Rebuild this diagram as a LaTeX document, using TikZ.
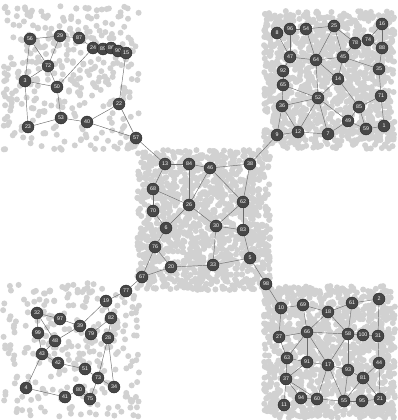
\documentclass[tikz,border=0pt]{standalone}
\usepackage{fontspec}
\setsansfont{Liberation Sans}
\tikzset{
    vertex/.style = {circle, fill=black!72, draw=black!85, line width=0.4pt, inner sep=0pt, minimum size=12pt, text=white, font=\sffamily\fontsize{5.3}{6}\selectfont},
    link/.style = {draw=black!58, line width=0.45pt},
    speck/.style = {fill=black!18}
}
\begin{document}
\begin{tikzpicture}[x=1pt, y=-1pt]
\useasboundingbox (0,0) rectangle (397,420);
\pgfmathsetseed{11}

% gray specks behind the five groups
\foreach \i in {1,...,340} {\fill[speck] ({3+137*rnd},{6+144*rnd}) circle (3pt);}
\foreach \i in {1,...,1300} {\fill[speck] ({264+131*rnd},{11+138*rnd}) circle (3pt);}
\foreach \i in {1,...,1300} {\fill[speck] ({137+133*rnd},{150+140*rnd}) circle (3pt);}
\foreach \i in {1,...,280} {\fill[speck] ({3+137*rnd},{283+135*rnd}) circle (3pt);}
\foreach \i in {1,...,1300} {\fill[speck] ({264+131*rnd},{286+132*rnd}) circle (3pt);}

% top left
\node[vertex] (n56) at (30,39) {56};
\node[vertex] (n29) at (60,36) {29};
\node[vertex] (n87) at (79,38) {87};
\node[vertex] (n24) at (93,48) {24};
\node[vertex] (n89) at (103,49) {89};
\node[vertex] (n86) at (111,48) {86};
\node[vertex] (n90) at (118,51) {90};
\node[vertex] (n15) at (126,53) {15};
\node[vertex] (n72) at (48,66) {72};
\node[vertex] (n3) at (25,81) {3};
\node[vertex] (n50) at (57,87) {50};
\node[vertex] (n22) at (119,104) {22};
\node[vertex] (n53) at (61,118) {53};
\node[vertex] (n40) at (87,122) {40};
\node[vertex] (n23) at (28,127) {23};
\node[vertex] (n57) at (136,138) {57};

% top right
\node[vertex] (n8) at (277,33) {8};
\node[vertex] (n96) at (290,29) {96};
\node[vertex] (n54) at (306,29) {54};
\node[vertex] (n25) at (334,26) {25};
\node[vertex] (n16) at (382,24) {16};
\node[vertex] (n78) at (355,43) {78};
\node[vertex] (n74) at (368,40) {74};
\node[vertex] (n88) at (382,48) {88};
\node[vertex] (n47) at (290,57) {47};
\node[vertex] (n64) at (316,60) {64};
\node[vertex] (n45) at (343,57) {45};
\node[vertex] (n35) at (379,69) {35};
\node[vertex] (n92) at (283,71) {92};
\node[vertex] (n14) at (338,79) {14};
\node[vertex] (n65) at (283,85) {65};
\node[vertex] (n71) at (381,96) {71};
\node[vertex] (n52) at (318,98) {52};
\node[vertex] (n36) at (282,106) {36};
\node[vertex] (n85) at (359,107) {85};
\node[vertex] (n49) at (348,121) {49};
\node[vertex] (n59) at (366,129) {59};
\node[vertex] (n1) at (384,126) {1};
\node[vertex] (n9) at (277,135) {9};
\node[vertex] (n12) at (298,132) {12};
\node[vertex] (n7) at (328,134) {7};

% centre
\node[vertex] (n13) at (165,164) {13};
\node[vertex] (n84) at (189,164) {84};
\node[vertex] (n46) at (210,168) {46};
\node[vertex] (n38) at (250,164) {38};
\node[vertex] (n68) at (153,189) {68};
\node[vertex] (n26) at (189,205) {26};
\node[vertex] (n62) at (243,202) {62};
\node[vertex] (n70) at (153,211) {70};
\node[vertex] (n6) at (166,228) {6};
\node[vertex] (n30) at (216,226) {30};
\node[vertex] (n83) at (243,230) {83};
\node[vertex] (n76) at (155,247) {76};
\node[vertex] (n5) at (250,258) {5};
\node[vertex] (n20) at (171,267) {20};
\node[vertex] (n33) at (213,265) {33};
\node[vertex] (n67) at (142,277) {67};
\node[vertex] (n98) at (266,284) {98};

% bottom left
\node[vertex] (n77) at (126,291) {77};
\node[vertex] (n19) at (106,301) {19};
\node[vertex] (n32) at (37,313) {32};
\node[vertex] (n97) at (60,319) {97};
\node[vertex] (n39) at (80,326) {39};
\node[vertex] (n82) at (111,318) {82};
\node[vertex] (n99) at (38,333) {99};
\node[vertex] (n79) at (91,334) {79};
\node[vertex] (n28) at (108,338) {28};
\node[vertex] (n48) at (55,341) {48};
\node[vertex] (n43) at (42,354) {43};
\node[vertex] (n42) at (58,363) {42};
\node[vertex] (n51) at (85,369) {51};
\node[vertex] (n73) at (98,378) {73};
\node[vertex] (n34) at (114,387) {34};
\node[vertex] (n4) at (26,388) {4};
\node[vertex] (n80) at (79,390) {80};
\node[vertex] (n41) at (65,397) {41};
\node[vertex] (n75) at (90,399) {75};

% bottom right
\node[vertex] (n10) at (281,308) {10};
\node[vertex] (n69) at (303,305) {69};
\node[vertex] (n18) at (328,312) {18};
\node[vertex] (n61) at (352,303) {61};
\node[vertex] (n2) at (379,299) {2};
\node[vertex] (n27) at (279,337) {27};
\node[vertex] (n66) at (307,332) {66};
\node[vertex] (n58) at (348,334) {58};
\node[vertex] (n100) at (363,335) {100};
\node[vertex] (n31) at (378,336) {31};
\node[vertex] (n63) at (287,358) {63};
\node[vertex] (n91) at (307,362) {91};
\node[vertex] (n17) at (328,365) {17};
\node[vertex] (n93) at (348,370) {93};
\node[vertex] (n44) at (379,363) {44};
\node[vertex] (n81) at (363,378) {81};
\node[vertex] (n37) at (286,379) {37};
\node[vertex] (n94) at (301,398) {94};
\node[vertex] (n60) at (317,399) {60};
\node[vertex] (n55) at (344,401) {55};
\node[vertex] (n95) at (362,401) {95};
\node[vertex] (n21) at (380,399) {21};
\node[vertex] (n11) at (284,405) {11};

% links
\foreach \a/\b in {56/29, 29/87, 87/24, 56/72, 29/72, 56/3, 72/3, 72/50, 3/50, 24/50, 3/23, 23/53, 50/53, 53/40, 15/22, 22/40, 22/57, 40/57,
    57/13, 9/38, 67/77, 98/10,
    8/47, 96/54, 96/47, 54/64, 54/25, 25/64, 25/45, 25/78, 78/45, 78/74, 74/16, 16/88, 74/88, 47/64, 64/45, 64/14, 45/14, 45/35, 88/35, 35/71,
    64/52, 47/92, 92/65, 65/52, 65/36, 14/52, 14/85, 36/52, 52/12, 52/7, 52/49, 71/85, 71/1, 85/49, 85/59, 49/59, 59/1, 49/7, 36/9, 36/12, 9/12, 12/7,
    13/84, 84/46, 46/38, 13/68, 68/26, 84/26, 46/26, 46/62, 38/62, 68/70, 70/6, 26/6, 26/30, 62/30, 62/83, 30/83, 30/33, 83/5, 6/76, 76/20, 76/67, 67/20, 20/33, 33/5, 5/98,
    77/19, 19/39, 19/82, 32/97, 97/39, 32/99, 32/48, 39/48, 82/79, 82/28, 99/43, 48/43, 43/42, 42/51, 51/73, 28/73, 28/34, 73/34, 73/75, 43/4, 4/41, 41/80, 80/75,
    10/69, 69/18, 18/61, 61/2, 10/27, 69/66, 18/66, 18/58, 61/58, 2/31, 27/66, 66/58, 58/100, 100/31, 27/63, 66/63, 66/91, 66/17, 58/17, 58/93, 63/91, 63/37, 91/17, 91/37,
    17/93, 93/81, 31/44, 44/81, 44/21, 81/21, 81/55, 17/60, 17/55, 93/55, 37/94, 37/60, 37/11, 94/60, 60/55, 55/95, 95/21}
    \draw[link] (n\a) -- (n\b);
\end{tikzpicture}
\end{document}
